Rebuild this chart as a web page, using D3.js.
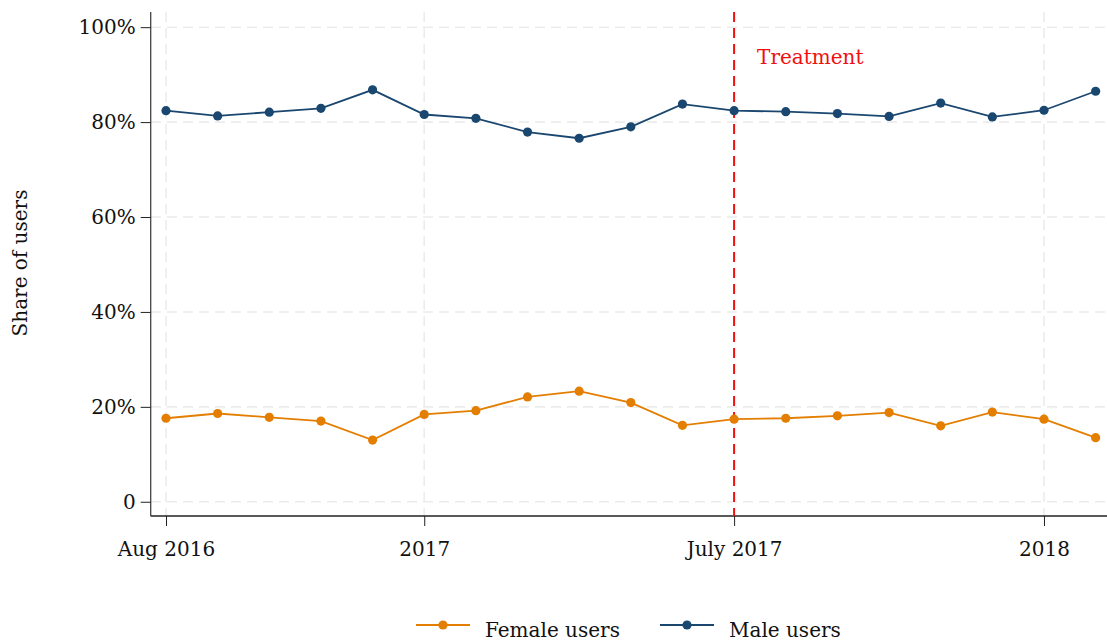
<!DOCTYPE html>
<html><head><meta charset="utf-8">
<script src="https://cdn.jsdelivr.net/npm/d3@7"></script>
<style>body{margin:0;background:#fff}svg{display:block}text{font-family:"DejaVu Serif",serif;}</style>
</head><body><svg id="c" width="1107" height="642"></svg>
<script>
const months = ["Aug 2016","Sep 2016","Oct 2016","Nov 2016","Dec 2016","Jan 2017","Feb 2017","Mar 2017","Apr 2017","May 2017","Jun 2017","Jul 2017","Aug 2017","Sep 2017","Oct 2017","Nov 2017","Dec 2017","Jan 2018","Feb 2018"];
const female = [17.6,18.6,17.8,17.0,13.0,18.4,19.2,22.1,23.3,20.9,16.1,17.4,17.6,18.1,18.8,16.0,18.9,17.4,13.5];
const male = [82.4,81.3,82.1,82.9,86.8,81.6,80.8,77.9,76.6,79.0,83.8,82.4,82.2,81.8,81.2,84.0,81.1,82.5,86.5];
const xTickIdx = [0,5,11,17];
const xTickLabels = ["Aug 2016","2017","July 2017","2018"];
const yTicks = [0,20,40,60,80,100];
const yTickLabels = ["0","20%","40%","60%","80%","100%"];
const treatmentIdx = 11;

const svg = d3.select("#c");
const x = d3.scaleLinear().domain([-0.296, 18.22]).range([150.7, 1107]);
const y = d3.scaleLinear().domain([-3.0, 103.2]).range([516, 12]);

// grid
const g = svg.append("g");
g.selectAll(".hg").data(yTicks).join("line")
  .attr("x1", 151).attr("x2", 1107).attr("y1", d=>y(d)).attr("y2", d=>y(d))
  .attr("stroke", "#ececec").attr("stroke-width", 1.6).attr("stroke-dasharray", "10,6");
g.selectAll(".vg").data(xTickIdx).join("line")
  .attr("x1", d=>x(d)).attr("x2", d=>x(d)).attr("y1", 12).attr("y2", 516)
  .attr("stroke", "#ececec").attr("stroke-width", 1.6).attr("stroke-dasharray", "10,6");

// axes
const yAxis = d3.axisLeft(y).tickValues(yTicks).tickFormat((d,i)=>yTickLabels[i]).tickSize(10).tickPadding(5);
const ya = svg.append("g").attr("transform","translate(150.7,0)").call(yAxis);
ya.select(".domain").attr("d","M0,12V516").attr("stroke","#444").attr("stroke-width",1.3);
ya.selectAll(".tick line").attr("stroke","#222");
ya.selectAll("text").attr("font-size",20).attr("font-family","DejaVu Serif").attr("fill","#111");

const xAxis = d3.axisBottom(x).tickValues(xTickIdx).tickFormat((d,i)=>xTickLabels[i]).tickSize(10).tickPadding(16);
const xa = svg.append("g").attr("transform","translate(0,516)").call(xAxis);
xa.select(".domain").attr("d","M150.7,0H1107").attr("stroke","#222").attr("stroke-width",1.3);
xa.selectAll(".tick line").attr("stroke","#222");
xa.selectAll("text").attr("font-size",20).attr("font-family","DejaVu Serif").attr("fill","#111");

// treatment
svg.append("line").attr("x1",x(treatmentIdx)).attr("x2",x(treatmentIdx)).attr("y1",12).attr("y2",516)
  .attr("stroke","#f01010").attr("stroke-width",2).attr("stroke-dasharray","10,6");
svg.append("text").attr("x",x(treatmentIdx)+23).attr("y",64).attr("fill","#f01010").attr("font-size",20).text("Treatment");

// series
const series = [{vals:female,color:"#e37e00",name:"Female users"},{vals:male,color:"#1a476f",name:"Male users"}];
const line = d3.line().x((d,i)=>x(i)).y(d=>y(d));
series.forEach(s=>{
  svg.append("path").datum(s.vals).attr("d",line).attr("fill","none").attr("stroke",s.color).attr("stroke-width",1.8);
  svg.selectAll(null).data(s.vals).join("circle").attr("cx",(d,i)=>x(i)).attr("cy",d=>y(d)).attr("r",4.6).attr("fill",s.color);
});

// y title
svg.append("text").attr("transform","translate(27,263) rotate(-90)").attr("text-anchor","middle").attr("font-size",20).attr("fill","#111").text("Share of users");

// legend
const leg = [{x:416},{x:660}];
series.forEach((s,i)=>{
  const lx = leg[i].x;
  svg.append("line").attr("x1",lx).attr("x2",lx+54).attr("y1",625).attr("y2",625).attr("stroke",s.color).attr("stroke-width",1.8);
  svg.append("circle").attr("cx",lx+27).attr("cy",625).attr("r",4.6).attr("fill",s.color);
  svg.append("text").attr("x",lx+69).attr("y",637).attr("font-size",20).attr("fill","#111").text(s.name);
});
</script></body></html>
